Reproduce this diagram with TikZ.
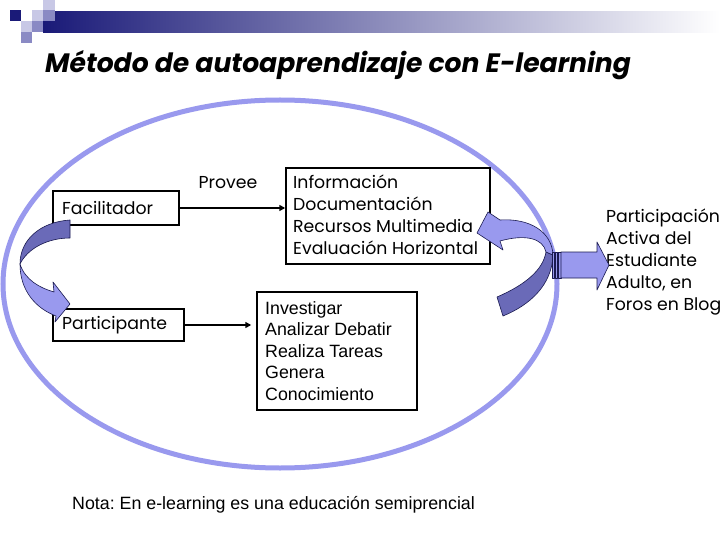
\documentclass[tikz,border=0pt]{standalone}
\usepackage{fontspec}
\setmainfont{Liberation Sans}
\newfontfamily\geo{Poppins}
\usetikzlibrary{arrows.meta}
\definecolor{ell}{HTML}{9999EE}
\definecolor{arrlight}{HTML}{9999EE}
\definecolor{arrdark}{HTML}{6A6AB8}
\definecolor{navy}{HTML}{1A1A78}
\definecolor{outl}{HTML}{1A1A50}
\definecolor{sqlight}{HTML}{C8C8E6}
\definecolor{sqmid}{HTML}{8A8AC4}
\begin{document}
\frenchspacing
\begin{tikzpicture}[x=1pt,y=-1pt,
  box/.style={draw=black, line width=1.5pt, rectangle, inner sep=0pt},
  geotxt/.style={font=\geo\fontsize{17.3}{22}\selectfont, inner sep=0pt, align=left},
  ariatxt/.style={font=\fontsize{17.8}{21.5}\selectfont, inner sep=0pt, align=left},
  conn/.style={line width=2pt, -{Triangle[length=6pt,width=6pt]}},
  fatarrow/.style={draw=outl, line width=0.6pt, line join=round}
]
\useasboundingbox (0,0) rectangle (720,540);
\fill[white] (0,0) rectangle (720,540);
% header
\shade[left color=navy, right color=white] (43,12) rectangle (720,33);
\fill[navy] (10,10) rectangle (21,21);
\fill[sqlight] (32,10) rectangle (43,21);
\fill[sqlight] (43,0) rectangle (55,10);
\fill[sqmid] (43,10) rectangle (55,21);
\fill[sqlight] (21,21) rectangle (32,32);
\fill[sqmid] (32,21) rectangle (43,32);
\fill[sqmid] (21,32) rectangle (32,43);
\node[anchor=base west, inner sep=0pt, font=\geo\bfseries\itshape\fontsize{26.6}{30}\selectfont] (title) at (45,73) {Método de autoaprendizaje con E-learning};
% ellipse
\draw[ell, line width=5pt] (280,284) ellipse [x radius=277, y radius=184];
% boxes
\node[box, minimum width=126pt, minimum height=34pt] (fac) at (116,208) {};
\node[geotxt, anchor=west] (factxt) at (62,208) {Facilitador};
\node[box, minimum width=131pt, minimum height=32pt] (par) at (118.5,325) {};
\node[geotxt, anchor=west] (partxt) at (62,325) {Participante};
\node[geotxt] (provee) at (228,183) {Provee};
\node[box, minimum width=204pt, minimum height=96pt] (info) at (388,216) {};
\node[geotxt, anchor=west] (infotxt) at (293,215) {Información\\Documentación\\Recursos Multimedia\\Evaluación Horizontal};
\node[box, minimum width=160pt, minimum height=118pt] (inv) at (337,351) {};
\node[ariatxt, anchor=west] (invtxt) at (265,351) {Investigar\\Analizar Debatir\\Realiza Tareas\\Genera\\Conocimiento};
\node[ariatxt, anchor=west] (nota) at (72,505) {Nota: En e-learning es una educación semiprencial};
\node[geotxt, anchor=west] (part) at (606,262) {Participación\\Activa del\\Estudiante\\Adulto, en\\Foros en Blog};
% connectors
\draw[conn] (fac.east) -- (fac.east -| info.west);
\draw[conn, shorten >=5pt] (par.east) -- (par.east -| inv.west);
% left curved arrow
\filldraw[fatarrow, fill=arrdark] (70,220) .. controls (40,222) and (20,240) .. (20,264) .. controls (28,248) and (48,238) .. (70,238) -- cycle;
\filldraw[fatarrow, fill=arrlight] (20,264) .. controls (20,290) and (35,308) .. (56,316) -- (55,322) -- (70,304) -- (53,282) -- (54,292) .. controls (40,288) and (25,280) .. (20,264) -- cycle;
% right curved arrow
\filldraw[fatarrow, fill=arrdark] (497,297) -- (503,316) .. controls (530,305) and (552,285) .. (553,255) -- (546,252) .. controls (543,270) and (525,285) .. (497,297) -- cycle;
\filldraw[fatarrow, fill=arrlight] (553,255) .. controls (552,232) and (530,218) .. (500,220) -- (488,212) -- (477,233) -- (503,250) -- (500,241) .. controls (525,234) and (543,238) .. (546,252) -- cycle;
% striped arrow
\filldraw[fatarrow, fill=arrlight] (552,252) rectangle (554,278);
\filldraw[fatarrow, fill=arrlight] (555,252) rectangle (557.5,278);
\filldraw[fatarrow, fill=arrlight] (558.5,252) rectangle (561,278);
\filldraw[fatarrow, fill=arrlight] (561,252) -- (597,252) -- (597,242) -- (609,265) -- (597,290) -- (597,278) -- (561,278) -- cycle;
\end{tikzpicture}
\end{document}
